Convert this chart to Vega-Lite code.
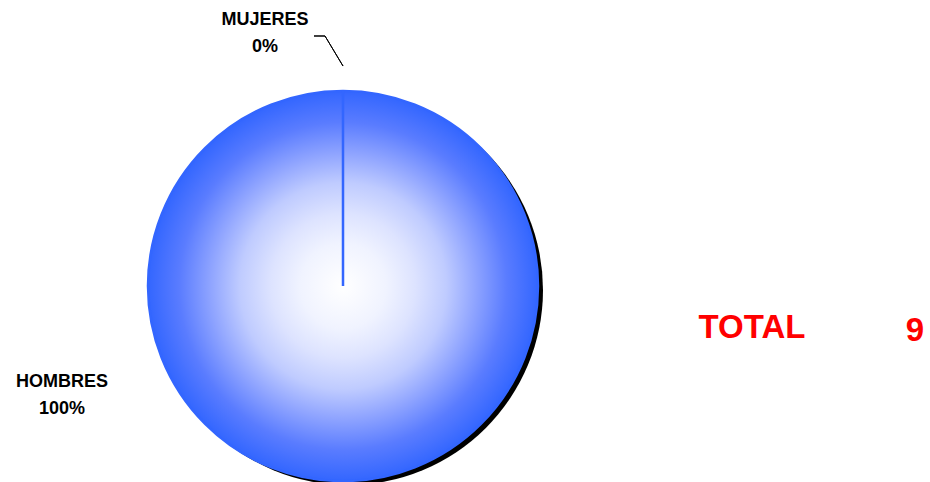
{
  "$schema": "https://vega.github.io/schema/vega-lite/v6.json",
  "autosize": {"type": "none"},
  "width": 390,
  "height": 390,
  "padding": {"left": 148, "top": 91, "right": 392, "bottom": 1},
  "background": "white",
  "config": {"view": {"stroke": null}},
  "data": {
    "values": [
      {"sexo": "HOMBRES", "n": 9, "pct": "100%", "orden": 1},
      {"sexo": "MUJERES", "n": 0, "pct": "0%", "orden": 2}
    ]
  },
  "transform": [
    {"calculate": "datum.sexo + '\\n' + datum.pct", "as": "etiqueta"}
  ],
  "layer": [
    {
      "mark": {"type": "arc", "fill": "black", "outerRadius": 195, "x": {"expr": "width/2+5"}, "y": {"expr": "height/2+4"}},
      "encoding": {
        "theta": {"field": "n", "type": "quantitative", "stack": true},
        "order": {"field": "orden"}
      }
    },
    {
      "mark": {
        "type": "arc",
        "outerRadius": 195,
        "stroke": "#3366ff",
        "strokeWidth": 2.5,
        "fill": {
          "gradient": "radial",
          "stops": [
            {"offset": 0, "color": "#ffffff"},
            {"offset": 0.22, "color": "#f0f3ff"},
            {"offset": 0.37, "color": "#dde3ff"},
            {"offset": 0.53, "color": "#bfcbff"},
            {"offset": 0.68, "color": "#8fa4ff"},
            {"offset": 0.84, "color": "#5a7cff"},
            {"offset": 1, "color": "#3366ff"}
          ]
        }
      },
      "encoding": {
        "theta": {"field": "n", "type": "quantitative", "stack": true},
        "order": {"field": "orden"}
      }
    },
    {
      "transform": [{"filter": "datum.sexo == 'MUJERES'"}],
      "mark": {"type": "arc", "x": {"expr": "width/2-18"}, "y": {"expr": "height/2-250"}, "theta": 2.6, "theta2": 2.602, "radius": 0, "radius2": 35, "fill": null, "stroke": "black", "strokeWidth": 1},
      "encoding": {}
    },
    {
      "transform": [{"filter": "datum.sexo == 'MUJERES'"}],
      "mark": {"type": "arc", "x": {"expr": "width/2-18"}, "y": {"expr": "height/2-250"}, "theta": -1.5718, "theta2": -1.5698, "radius": 0, "radius2": 11, "fill": null, "stroke": "black", "strokeWidth": 1},
      "encoding": {}
    },
    {
      "transform": [{"filter": "datum.sexo == 'MUJERES'"}],
      "mark": {"type": "text", "font": "Liberation Sans", "fontWeight": "bold", "fontSize": 18, "lineBreak": "\n", "lineHeight": 27, "align": "center", "baseline": "middle", "dx": -78, "dy": -266, "color": "black"},
      "encoding": {"text": {"field": "etiqueta"}}
    },
    {
      "transform": [{"filter": "datum.sexo == 'HOMBRES'"}],
      "mark": {"type": "text", "font": "Liberation Sans", "fontWeight": "bold", "fontSize": 18, "lineBreak": "\n", "lineHeight": 27, "align": "center", "baseline": "middle", "dx": -281, "dy": 96, "color": "black"},
      "encoding": {"text": {"field": "etiqueta"}}
    },
    {
      "transform": [{"aggregate": [{"op": "sum", "field": "n", "as": "total"}]}],
      "mark": {"type": "text", "text": "TOTAL", "font": "Liberation Sans", "fontWeight": "bold", "fontSize": 33, "align": "center", "baseline": "middle", "dx": 409, "dy": 42, "color": "red"},
      "encoding": {}
    },
    {
      "transform": [{"aggregate": [{"op": "sum", "field": "n", "as": "total"}]}],
      "mark": {"type": "text", "font": "Liberation Sans", "fontWeight": "bold", "fontSize": 33, "align": "center", "baseline": "middle", "dx": 572, "dy": 45, "color": "red"},
      "encoding": {"text": {"field": "total", "type": "quantitative"}}
    }
  ]
}
